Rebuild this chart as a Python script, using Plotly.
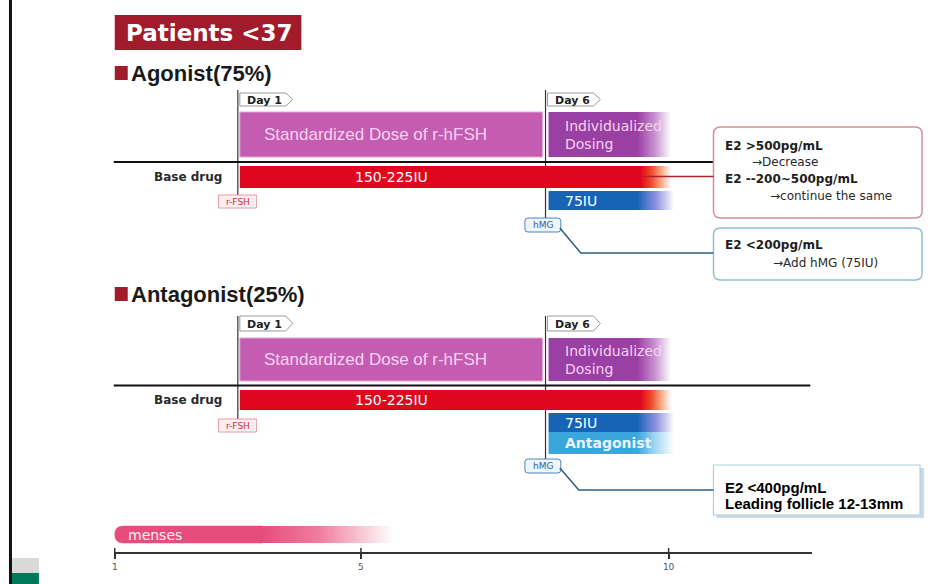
import plotly.graph_objects as go

# ---- protocol data (x values are cycle days) ----
cycle_ticks = [1, 5, 10]
stim_day_labels = ["Day 1", "Day 6"]
stim_day_on_cycle = [3, 8]

phase_labels = ["Standardized Dose of r-hFSH", "Individualized<br>Dosing"]
phase_start = [3, 8]
phase_end = [8, 10.05]

base_label = "150-225IU"
base_start = 3
base_end = 10.05

hmg_label = "75IU"
hmg_start = 8
hmg_end = 10.1

antagonist_label = "Antagonist"
antagonist_start = 8
antagonist_end = 10.1

menses_label = "menses"
menses_start = 1
menses_end = 5.55

groups = ["Agonist(75%)", "Antagonist(25%)"]

agonist_notes = [("E2 &gt;500pg/mL", "→Decrease"),
                 ("E2 --200~500pg/mL", "→continue the same")]
agonist_hmg_note = ("E2 &lt;200pg/mL", "→Add hMG (75IU)")
antagonist_note = ("E2 &lt;400pg/mL", "Leading follicle 12-13mm")

# ---- canvas geometry ----
W, H = 952, 584
K = 555 / 9.0            # pixels per cycle day
X0 = 1 - 113 / K         # cycle day at the left edge


def X(px):
    return X0 + px / K


RAST = "DejaVu Sans, Verdana, sans-serif"
ARIAL = "Liberation Sans, Arial, sans-serif"

shapes = []
annots = []


def rect(x0, x1, y0, y1, fill, line=None, lw=0):
    shapes.append(dict(type="rect", xref="x", yref="y", x0=x0, x1=x1, y0=y0, y1=y1,
                       fillcolor=fill, line=dict(color=line or fill, width=lw)))


def seg(x0, y0, x1, y1, color, width):
    shapes.append(dict(type="line", xref="x", yref="y", x0=x0, y0=y0, x1=x1, y1=y1,
                       line=dict(color=color, width=width)))


def pt(px, py):
    return f"{X(px):.5f},{py:.2f}"


def path(d, fill=None, line="#000", lw=1):
    s = dict(type="path", xref="x", yref="y", path=d, line=dict(color=line, width=lw))
    if fill:
        s["fillcolor"] = fill
    shapes.append(s)


def rounded_box(px0, py0, px1, py1, r, fill, line, lw):
    d = (f"M {pt(px0 + r, py0)} L {pt(px1 - r, py0)} Q {pt(px1, py0)} {pt(px1, py0 + r)} "
         f"L {pt(px1, py1 - r)} Q {pt(px1, py1)} {pt(px1 - r, py1)} "
         f"L {pt(px0 + r, py1)} Q {pt(px0, py1)} {pt(px0, py1 - r)} "
         f"L {pt(px0, py0 + r)} Q {pt(px0, py0)} {pt(px0 + r, py0)} Z")
    path(d, fill=fill, line=line, lw=lw)


def text(px_or_x, py, s, size, color, font=RAST, bold=False, xanchor="left", in_days=False, align="left"):
    x = px_or_x if in_days else X(px_or_x)
    annots.append(dict(xref="x", yref="y", x=x, y=py, text=f"<b>{s}</b>" if bold else s,
                       showarrow=False, xanchor=xanchor, yanchor="middle", align=align,
                       font=dict(family=font, size=size, color=color)))


def hex2rgb(h):
    h = h.lstrip("#")
    return tuple(int(h[i:i + 2], 16) for i in (0, 2, 4))


def mix(stops, t):
    # stops: list of (position 0..1, hex colour)
    for (p0, c0), (p1, c1) in zip(stops[:-1], stops[1:]):
        if p0 <= t <= p1:
            u = 0 if p1 == p0 else (t - p0) / (p1 - p0)
            a, b = hex2rgb(c0), hex2rgb(c1)
            return "rgb(%d,%d,%d)" % tuple(round(a[i] + (b[i] - a[i]) * u) for i in range(3))
    return stops[-1][1]


def fading_bar(x_start, x_end, fade_len, y0, y1, stops, n=32):
    # solid body, then a stack of progressively lighter layers, each running to the end
    x_fade = x_end - fade_len
    rect(x_start, x_end, y0, y1, stops[0][1])
    step = fade_len / n
    for i in range(n):
        c = mix(stops, (i + 1) / n)
        rect(x_fade + i * step, x_end + 0.02, y0, y1, c)


PURPLE_STD = "#c45cb2"
PURPLE_IND = "#9a3fa3"
RED = "#e0061d"
BLUE = "#1764b6"
CYAN = "#3aa6de"
BOX_TXT = "#f6d2ef"

# ---- frame decoration ----
shapes.append(dict(type="line", xref="paper", yref="paper", x0=8.5 / W, x1=8.5 / W, y0=0, y1=1,
                   line=dict(color="#111", width=3)))
shapes.append(dict(type="rect", xref="paper", yref="paper", x0=10 / W, x1=37 / W,
                   y0=1 - 573 / H, y1=1 - 558 / H, fillcolor="#d9d9d9", line=dict(width=0)))
shapes.append(dict(type="rect", xref="paper", yref="paper", x0=10 / W, x1=37 / W,
                   y0=0, y1=1 - 573 / H, fillcolor="#00785a", line=dict(width=0)))

# ---- title ----
rect(X(113), X(300), 15, 50, "#a11b2d")
text(122, 33, "Patients &lt;37", 23, "white", font=RAST, bold=True)

# ---- panels ----
panels = [
    dict(head=73, tab=(93, 106), purple=(112, 157), line=162, red=(166, 188), blue=(191, 210),
         cyan=None, rfsh=(195, 208), hmg=(218, 232), v1=(90, 195), v2=(90, 218), line_end=713),
    dict(head=294, tab=(316, 331), purple=(338, 381), line=385.5, red=(390, 410), blue=(413, 432),
         cyan=(432, 454), rfsh=(419, 432), hmg=(459, 473), v1=(316, 419), v2=(316, 459), line_end=810),
]

for gi, (name, p) in enumerate(zip(groups, panels)):
    # heading
    rect(X(113), X(126), p["head"] - 7, p["head"] + 7, "#a11b2d")
    text(127, p["head"], name, 22, "#1a1a1a", font=ARIAL, bold=True)

    # day tabs with vertical markers
    for lab, d in zip(stim_day_labels, stim_day_on_cycle):
        x0 = d + 2 / K
        t0, t1 = p["tab"]
        mid = (t0 + t1) / 2
        path(f"M {x0:.5f},{t0} L {x0 + 46 / K:.5f},{t0} L {x0 + 53 / K:.5f},{mid} "
             f"L {x0 + 46 / K:.5f},{t1} L {x0:.5f},{t1} Z", fill="white", line="#9a9a9a", lw=1)
        text(x0 + 5 / K, mid + 0.5, lab, 11, "#222", bold=True, in_days=True)
    seg(stim_day_on_cycle[0], p["v1"][0], stim_day_on_cycle[0], p["v1"][1], "#333", 1.2)
    seg(stim_day_on_cycle[1], p["v2"][0], stim_day_on_cycle[1], p["v2"][1], "#333", 1.2)

    # dosing phases
    py0, py1 = p["purple"]
    rect(phase_start[0] + 2 / K, phase_end[0] - 3 / K, py0, py1, PURPLE_STD, line="#e3a8d9", lw=1)
    text((phase_start[0] + phase_end[0]) / 2 - 0.27, (py0 + py1) / 2, phase_labels[0], 17,
         BOX_TXT, font=ARIAL, xanchor="center", in_days=True)
    fading_bar(phase_start[1] + 3 / K, phase_end[1], 0.55, py0, py1,
               [(0, PURPLE_IND), (0.5, "#c78fcf"), (1, "#ffffff")])
    text(phase_start[1] + 18 / K, (py0 + py1) / 2, phase_labels[1], 14, BOX_TXT,
         in_days=True, align="left")

    # separator line
    seg(X(112), p["line"], X(p["line_end"]), p["line"], "#111", 2)

    # base drug
    r0, r1 = p["red"]
    fading_bar(base_start + 2 / K, base_end, 0.5, r0, r1,
               [(0, RED), (0.35, "#ef4b2c"), (0.65, "#f7a27c"), (1, "#ffffff")])
    text(222, (r0 + r1) / 2, "Base drug", 12, "#2a2a2a", bold=True, xanchor="right")
    text((base_start + phase_end[0]) / 2, (r0 + r1) / 2, base_label, 14, "white",
         xanchor="center", in_days=True)

    # hMG and antagonist add-ons
    b0, b1 = p["blue"]
    fading_bar(hmg_start + 3 / K, hmg_end, 0.6, b0, b1,
               [(0, BLUE), (0.5, "#8d8fe0"), (1, "#ffffff")])
    text(hmg_start + 18 / K, (b0 + b1) / 2, hmg_label, 14, "white", in_days=True)
    if p["cyan"]:
        c0, c1 = p["cyan"]
        fading_bar(antagonist_start + 3 / K, antagonist_end, 0.6, c0, c1,
                   [(0, CYAN), (0.5, "#a6d8f2"), (1, "#ffffff")])
        text(antagonist_start + 18 / K, (c0 + c1) / 2, antagonist_label, 14, "#eaf6ff",
             bold=True, in_days=True)

    # drug tags
    f0, f1 = p["rfsh"]
    rect(X(217), X(255), f0, f1, "#fdeef0", line="#e0a0a8", lw=1)
    text(236, (f0 + f1) / 2, "r-FSH", 9, "#d0283a", xanchor="center")
    h0, h1 = p["hmg"]
    rounded_box(524, h0, 560, h1, 3, "#eef5fc", "#4f86c0", 1)
    text(542, (h0 + h1) / 2, "hMG", 9, "#2d62a8", xanchor="center")

# ---- agonist call-outs ----
rounded_box(713, 127, 922, 218, 7, "white", "#d58f9a", 1.5)
seg(X(643), 176.5, X(713), 176.5, "#b0202e", 1.5)
text(723, 146, agonist_notes[0][0], 12, "#1e1e1e", bold=True)
text(750, 162, agonist_notes[0][1], 12, "#2a2a2a")
text(723, 179, agonist_notes[1][0], 12, "#1e1e1e", bold=True)
text(768, 196, agonist_notes[1][1], 12, "#2a2a2a")

rounded_box(713, 228, 922, 280, 7, "white", "#8fc0d6", 1.5)
path(f"M {pt(559, 228)} L {pt(580, 253)} L {pt(713, 253)}", line="#2b5f86", lw=1.5)
text(723, 245, agonist_hmg_note[0], 12, "#1e1e1e", bold=True)
text(771, 263, agonist_hmg_note[1], 12, "#2a2a2a")

# ---- antagonist call-out ----
rect(X(716), X(924), 468, 518, "#c9dbe3")
rect(X(713), X(920), 465, 515, "white", line="#a9d0dd", lw=1.2)
path(f"M {pt(559, 468)} L {pt(578, 490)} L {pt(713, 490)}", line="#2b5f86", lw=1.5)
text(723, 487, antagonist_note[0], 15, "#000", font=ARIAL, bold=True)
text(723, 503, antagonist_note[1], 15, "#000", font=ARIAL, bold=True)

# ---- menses bar and cycle-day axis ----
m0, m1 = 526, 543
rr = (m1 - m0) / 2
solid_end = menses_start + 2.4
path(f"M {pt(113 + rr, m0)} L {solid_end:.5f},{m0} L {solid_end:.5f},{m1} L {pt(113 + rr, m1)} "
     f"Q {pt(113, m1)} {pt(113, (m0 + m1) / 2)} Q {pt(113, m0)} {pt(113 + rr, m0)} Z",
     fill="#e64c7c", line="#e64c7c", lw=0.5)
fading_bar(solid_end - 0.01, menses_end, menses_end - solid_end, m0, m1,
           [(0, "#e64c7c"), (0.45, "#f07fa0"), (1, "#ffffff")], n=48)
text(124, (m0 + m1) / 2, menses_label, 14, "#fff0f5")

for t in cycle_ticks:
    seg(t, 548, t, 553, "#333", 1.5)

fig = go.Figure()
fig.add_trace(go.Scatter(x=cycle_ticks, y=[553] * len(cycle_ticks), xaxis="x2", yaxis="y",
                         mode="markers", marker=dict(opacity=0), hoverinfo="skip",
                         showlegend=False))

fig.update_layout(
    width=W, height=H, margin=dict(l=0, r=0, t=0, b=0),
    paper_bgcolor="white", plot_bgcolor="white", showlegend=False,
    xaxis=dict(range=[X(0), X(W)], domain=[0, 1], visible=False, fixedrange=True),
    yaxis=dict(range=[H, 0], domain=[0, 1], visible=False, fixedrange=True),
    xaxis2=dict(range=[X(112), X(812)], domain=[112 / W, 812 / W], anchor="free",
                position=1 - 553 / H, showline=True, linecolor="#333", linewidth=2,
                ticks="outside", ticklen=5, tickwidth=1.5, tickcolor="#333",
                tickvals=cycle_ticks, ticktext=[str(t) for t in cycle_ticks],
                tickfont=dict(family=RAST, size=9, color="#555"),
                showgrid=False, zeroline=False, fixedrange=True),
    shapes=shapes, annotations=annots,
)

fig.write_html("out.html")
